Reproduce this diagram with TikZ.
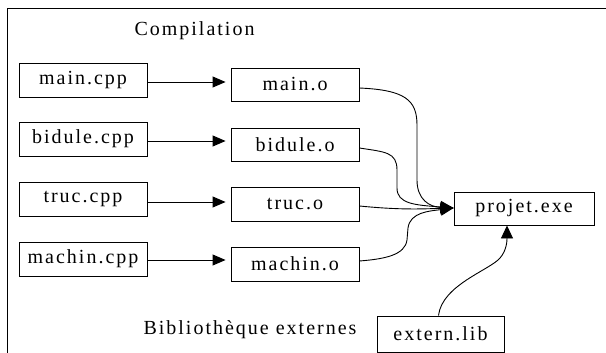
\documentclass[tikz,border=0pt]{standalone}
\usepackage{fontspec}
\newfontfamily\myserif{Liberation Serif}[LetterSpace=10]
\usetikzlibrary{arrows.meta}
\begin{document}
\begin{tikzpicture}[x=1pt,y=-1pt,
  box/.style={draw=black,line width=0.9pt,inner sep=0pt,minimum width=128pt,minimum height=34pt,font=\myserif\fontsize{20}{22}\selectfont},
  lbl/.style={inner sep=0pt,font=\myserif\fontsize{20}{22}\selectfont},
  arr/.style={draw=black,line width=0.9pt,-{Triangle[length=13pt,width=11pt]}},
  carr/.style={draw=black,line width=0.9pt,-{Triangle[length=13pt,width=12pt]}}]
\useasboundingbox (0,0) rectangle (606,353);
\fill[white] (0,0) rectangle (606,353);
% frame
\draw[line width=1.8pt] (7.5,353) -- (7.5,8.5) -- (606,8.5);
% titles
\node[lbl] (comp) at (194.5,31) {Compilation};
\node[lbl] (bib) at (250,330) {Bibliothèque externes};
% sources
\node[box] (mc) at (83,80) {main.cpp};
\node[box] (bc) at (83,139) {bidule.cpp};
\node[box] (tc) at (83,199) {truc.cpp};
\node[box] (hc) at (83,259) {machin.cpp};
% objects
\node[box,minimum height=33pt] (mo) at (295,84.5) {main.o};
\node[box,minimum height=33pt] (bo) at (295,144.5) {bidule.o};
\node[box] (to) at (295,204) {truc.o};
\node[box] (ho) at (295,264) {machin.o};
% targets
\node[box,minimum width=140pt,minimum height=33pt] (pe) at (524,208.5) {projet.exe};
\node[box,minimum width=127pt,minimum height=36pt] (el) at (440.5,334) {extern.lib};
% compile arrows
\draw[arr,shorten >=5pt] ([yshift=-2pt]mc.east) -- ([yshift=-2pt]mc.east -| mo.west);
\draw[arr,shorten >=5pt] ([yshift=-2pt]bc.east) -- ([yshift=-2pt]bc.east -| bo.west);
\draw[arr,shorten >=5pt] ([yshift=-3pt]tc.east) -- ([yshift=-3pt]tc.east -| to.west);
\draw[arr,shorten >=5pt] ([yshift=-1pt]hc.east) -- ([yshift=-1pt]hc.east -| ho.west);
% link curves
\draw[carr] ([yshift=-3.5pt]mo.east) .. controls (405,90) and (417,100) .. (417,125)
  -- (417,180) .. controls (417,200) and (430,207) .. ([yshift=0.5pt]pe.west);
\draw[carr] ([yshift=-3.5pt]bo.east) .. controls (385,152) and (397,152) .. (397,170)
  -- (397,188) .. controls (397,204) and (415,205) .. ([yshift=0.5pt]pe.west);
\draw[carr] ([yshift=-2pt]to.east) .. controls (400,210) and (420,209) .. ([yshift=0.5pt]pe.west);
\draw[carr] ([yshift=3pt]ho.east) .. controls (385,259) and (405,255) .. (407,240)
  -- (408,228) .. controls (410,212) and (430,211) .. ([yshift=0.5pt]pe.west);
\draw[carr] ([xshift=-2pt]el.north) .. controls (442,285) and (490,270) .. (500,258)
  .. controls (507,250) and (507,240) .. ([xshift=-17pt]pe.south);
\end{tikzpicture}
\end{document}
